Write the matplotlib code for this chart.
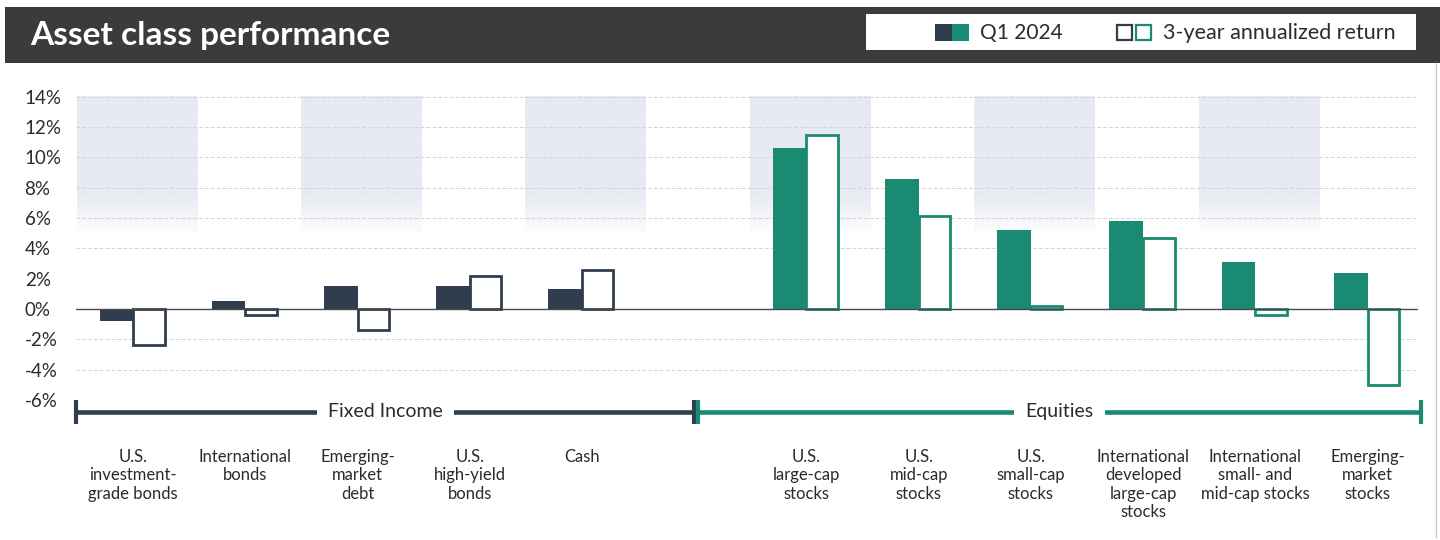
import numpy as np
import matplotlib
matplotlib.use('Agg')
import matplotlib.pyplot as plt
from matplotlib import font_manager as fm
from matplotlib.patches import Rectangle

# data (percent)
categories = ['U.S.\ninvestment-\ngrade bonds', 'International\nbonds', 'Emerging-\nmarket\ndebt',
              'U.S.\nhigh-yield\nbonds', 'Cash',
              'U.S.\nlarge-cap\nstocks', 'U.S.\nmid-cap\nstocks', 'U.S.\nsmall-cap\nstocks',
              'International\ndeveloped\nlarge-cap\nstocks', 'International\nsmall- and\nmid-cap stocks',
              'Emerging-\nmarket\nstocks']
q1_2024 = [-0.8, 0.5, 1.5, 1.5, 1.3, 10.6, 8.6, 5.2, 5.8, 3.1, 2.4]
ann_3yr = [-2.4, -0.4, -1.4, 2.2, 2.6, 11.5, 6.1, 0.2, 4.7, -0.4, -5.0]
group = ['Fixed Income'] * 5 + ['Equities'] * 6
yticks = [14, 12, 10, 8, 6, 4, 2, 0, -2, -4, -6]

NAVY = '#2f3d4f'
TEAL = '#1a8a72'
TXT = '#2b2b2b'

names = {f.name for f in fm.fontManager.ttflist}
narrow = 'Liberation Sans Narrow' if 'Liberation Sans Narrow' in names else 'Lato'
plt.rcParams['font.family'] = [narrow, 'DejaVu Sans']

# positions: gap of one slot between the two groups
pos = np.array([i if g == 'Fixed Income' else i + 1 for i, g in enumerate(group)], dtype=float)
colors = [NAVY if g == 'Fixed Income' else TEAL for g in group]

fig = plt.figure(figsize=(14.4, 5.4), dpi=100)
fig.patch.set_facecolor('white')
ax = fig.add_axes([76 / 1440, 0, (1418 - 76) / 1440, 1])
ax.patch.set_visible(False)
for s in ax.spines.values():
    s.set_visible(False)

# shaded columns with fading gradient
alpha = np.clip((np.linspace(4.5, 14, 200) - 4.8) / 2.8, 0, 1)
grad = np.zeros((200, 1, 4))
grad[..., 0] = 231 / 255
grad[..., 1] = 234 / 255
grad[..., 2] = 242 / 255
grad[..., 3] = alpha[:, None]
for i in (0, 2, 4, 5, 7, 9):
    p = pos[i] + 0.03
    ax.imshow(grad, extent=[p - 0.535, p + 0.535, 4.5, 14], origin='lower',
              aspect='auto', zorder=0, interpolation='bilinear')

# grid lines
for t in yticks:
    if t in (2, 0, -6):
        continue
    ax.axhline(t, color='#d4d4d4', lw=0.7, ls=(0, (4, 2)), zorder=1)
ax.axhline(0, color='#4a4a4a', lw=1.0, zorder=3)

w = 0.3
ax.bar(pos - w / 2, q1_2024, width=w, color=colors, zorder=2)
ax.bar(pos + w / 2 - 0.01, ann_3yr, width=w - 0.02, facecolor='white', edgecolor=colors,
       linewidth=2.0, zorder=2)

ax.set_xlim(-0.51, 11.45)
ax.set_ylim(-15.23, 20.37)
ax.set_yticks(yticks)
ax.set_yticklabels([f'{t}%' for t in yticks], fontsize=13.5, color=TXT)
ax.tick_params(axis='y', length=0, pad=37)
for lab in ax.get_yticklabels():
    lab.set_horizontalalignment('left')
ax.set_xticks([])

# group brackets
yb = -6.79
spans = {'Fixed Income': (pos[0] - 0.51, 5.0, NAVY), 'Equities': (5.03, pos[-1] + 0.48, TEAL)}
for name, (x0, x1, c) in spans.items():
    ax.plot([x0, x1], [yb, yb], color=c, lw=3.3, solid_capstyle='butt', zorder=3, clip_on=False)
    ax.plot([x0, x0], [yb - 0.8, yb + 0.8], color=c, lw=3, solid_capstyle='butt', zorder=3,
            clip_on=False)
    ax.plot([x1, x1], [yb - 0.8, yb + 0.8], color=c, lw=3, solid_capstyle='butt', zorder=3,
            clip_on=False)
    ax.text((x0 + x1) / 2, yb, name, ha='center', va='center', fontsize=14, color=TXT, zorder=4,
            bbox=dict(facecolor='white', edgecolor='none', pad=8))

for p, lab in zip(pos, categories):
    ax.text(p, -9.2, lab, ha='center', va='top', fontsize=12, color=TXT, linespacing=1.2)

# title bar
fig.patches.append(Rectangle((5 / 1440, 1 - 63 / 540), 1, 56 / 540, transform=fig.transFigure,
                             facecolor='#3b3b3b', edgecolor='none'))
fig.text(30 / 1440, 1 - 36 / 540, 'Asset class performance', color='white', fontsize=24,
         fontweight='bold', family=['Lato', 'DejaVu Sans'], va='center', ha='left')

# legend box
def px(x, y, w_, h_):
    return (x / 1440, 1 - (y + h_) / 540), w_ / 1440, h_ / 540

for args, kw in [
    (px(866, 14, 550, 36), dict(facecolor='white', edgecolor='none')),
    (px(935, 24, 17, 17), dict(facecolor=NAVY, edgecolor='none')),
    (px(952, 24, 17, 17), dict(facecolor=TEAL, edgecolor='none')),
    (px(1117, 25, 15, 15), dict(facecolor='white', edgecolor=NAVY, lw=1.6)),
    (px(1136, 25, 15, 15), dict(facecolor='white', edgecolor=TEAL, lw=1.6)),
]:
    xy, ww, hh = args
    fig.patches.append(Rectangle(xy, ww, hh, transform=fig.transFigure, **kw))
fig.text(980 / 1440, 1 - 33 / 540, 'Q1 2024', fontsize=15, color=TXT, va='center', ha='left')
fig.text(1163 / 1440, 1 - 33 / 540, '3-year annualized return', fontsize=15.5, color=TXT,
         va='center', ha='left')

# panel border
fig.lines.append(plt.Line2D([1436 / 1440, 1436 / 1440], [3 / 540, 1 - 63 / 540],
                            transform=fig.transFigure, color='#cccccc', lw=1))

fig.savefig('out.png', dpi=100)
